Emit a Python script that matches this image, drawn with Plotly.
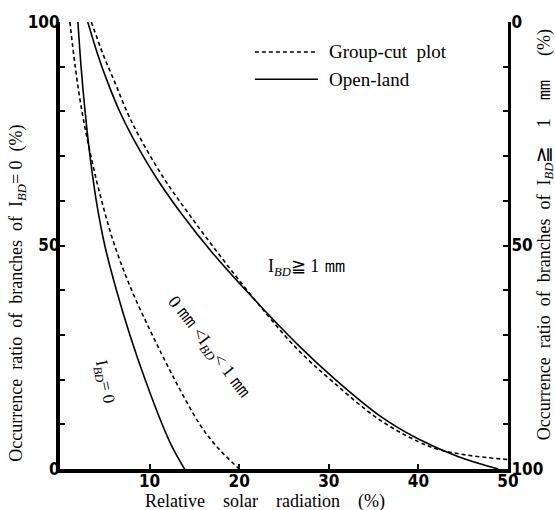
import plotly.graph_objects as go

# ---- data ----
# I_BD = 0 curves, left axis (%)
x_bd0_open = [2.0, 2.35, 2.8, 3.35, 4.05, 5.0, 6.3, 7.8, 9.5, 11.4, 12.5, 13.9]
y_bd0_open = [100, 90, 80, 70, 60, 50, 40, 30, 20, 10, 5, 0]
x_bd0_cut = [1.1, 1.7, 2.45, 3.45, 4.65, 6.1, 8.0, 10.3, 12.8, 15.6, 17.5, 20.0]
y_bd0_cut = [100, 90, 80, 70, 60, 50, 40, 30, 20, 10, 5, 0]

# I_BD >= 1 mm curves, right axis (%; reversed)
x_bd1_open = [3.1, 4.2, 5.3, 6.7, 8.1, 10.8, 13.6, 17.0, 21.1, 26.7, 30.8, 35.9, 40.0, 44.4, 48.9]
y_bd1_open = [0, 7.2, 13.4, 20.2, 25.8, 35.0, 43.0, 51.6, 60.8, 72.5, 80.1, 88.4, 93.3, 97.2, 100]
x_bd1_cut = [3.5, 4.8, 6.1, 7.5, 8.9, 11.6, 14.4, 17.6, 21.2, 26.4, 30.4, 35.6, 40.0, 42.2, 44.5, 47.0, 50.0]
y_bd1_cut = [0, 7.2, 13.4, 20.2, 25.8, 35.0, 43.0, 51.6, 60.8, 73.0, 80.4, 88.9, 93.9, 95.6, 96.6, 97.3, 97.9]

x_ticks = [10, 20, 30, 40, 50]
y_ticks = list(range(0, 101, 10))
y_labels = ["0", "", "", "", "", "50", "", "", "", "", "100"]
y2_labels = ["0", "", "", "", "", "50", "", "", "", "", "100"]

SERIF = "Liberation Serif, DejaVu Serif, serif"
NUM = "Liberation Sans Narrow, DejaVu Sans Condensed, Arial Narrow, sans-serif"

fig = go.Figure()
lw = 1.6
spl = dict(shape="spline", smoothing=1.0)
fig.add_trace(go.Scatter(x=x_bd0_open, y=y_bd0_open, mode="lines",
                         line=dict(color="black", width=lw, **spl)))
fig.add_trace(go.Scatter(x=x_bd0_cut, y=y_bd0_cut, mode="lines",
                         line=dict(color="black", width=lw, dash="4px,3px", **spl)))
fig.add_trace(go.Scatter(x=x_bd1_open, y=y_bd1_open, mode="lines", yaxis="y2",
                         line=dict(color="black", width=lw, **spl)))
fig.add_trace(go.Scatter(x=x_bd1_cut, y=y_bd1_cut, mode="lines", yaxis="y2",
                         line=dict(color="black", width=lw, dash="4px,3px", **spl)))

tickfont = dict(family=NUM, size=17, color="black", weight="bold")

fig.update_layout(
    width=555, height=510,
    margin=dict(l=60, r=47, t=22, b=41),
    paper_bgcolor="white", plot_bgcolor="white",
    showlegend=False,
    xaxis=dict(range=[0, 50], tickvals=x_ticks, ticktext=[str(v) for v in x_ticks],
               ticks="inside", ticklen=5, tickwidth=1.5, tickcolor="black",
               showline=True, linewidth=4, linecolor="black", mirror=False,
               showgrid=False, zeroline=False, tickfont=tickfont, ticklabelstandoff=-6),
    yaxis=dict(range=[0, 100], tickvals=y_ticks, ticktext=y_labels,
               ticks="inside", ticklen=5, tickwidth=1.5, tickcolor="black",
               showline=True, linewidth=4, linecolor="black",
               showgrid=False, zeroline=False, tickfont=tickfont, ticklabelstandoff=-7),
    yaxis2=dict(range=[100, 0], overlaying="y", side="right", anchor="x",
                tickvals=y_ticks, ticktext=y2_labels,
                ticks="inside", ticklen=5, tickwidth=1.5, tickcolor="black",
                showline=True, linewidth=3, linecolor="black",
                showgrid=False, zeroline=False, tickfont=tickfont, ticklabelstandoff=-3),
)

tfont = dict(family=SERIF, size=18, color="black")
C = dict(xanchor="center", yanchor="middle", showarrow=False)
MM = "<span style='font-size:22px'>㎜</span>"
GE = "<span style='font-size:20px'>≧</span>"
ann = [
    dict(text="Occurrence  ratio  of  branches  of  I<sub><i>BD</i></sub>= 0  (%)",
         xref="paper", yref="paper", x=-0.094, y=0.394, textangle=-90, font=tfont, **C),
    dict(text="Occurrence  ratio  of  branches  of  I<sub><i>BD</i></sub>" + GE +
              "    1    " + MM + "     (%)",
         xref="paper", yref="paper", x=1.078, y=0.525, textangle=-90, font=tfont, **C),
    dict(text="Relative    solar    radiation    (%)",
         xref="paper", yref="paper", x=0.458, y=-0.0725,
         font=dict(family=SERIF, size=18, color="black"), **C),
    dict(text="Group-cut  plot", xref="paper", yref="paper", x=0.596, y=0.933,
         xanchor="left", yanchor="middle", showarrow=False,
         font=dict(family=SERIF, size=19, color="black")),
    dict(text="Open-land", xref="paper", yref="paper", x=0.596, y=0.872,
         xanchor="left", yanchor="middle", showarrow=False,
         font=dict(family=SERIF, size=19, color="black")),
    dict(text="I<sub><i>BD</i></sub>≧ 1 " + MM, x=27.6, y=45.6,
         font=dict(family=SERIF, size=18, color="black"), **C),
    dict(text="0 " + MM + " <I<sub><i>BD</i></sub>< 1 " + MM, x=16.8, y=27.5, textangle=52,
         font=dict(family=SERIF, size=18, color="black"), **C),
    dict(text="I<sub><i>BD</i></sub>= 0", x=4.9, y=19.5, textangle=79,
         font=dict(family=SERIF, size=17, color="black"), **C),
]
fig.update_layout(annotations=ann)

# legend samples
fig.add_shape(type="line", xref="paper", yref="paper", x0=0.435, x1=0.576, y0=0.933, y1=0.933,
              line=dict(color="black", width=1.4, dash="4px,3px"))
fig.add_shape(type="line", xref="paper", yref="paper", x0=0.435, x1=0.576, y0=0.872, y1=0.872,
              line=dict(color="black", width=1.6))

fig.write_html("out.html")
